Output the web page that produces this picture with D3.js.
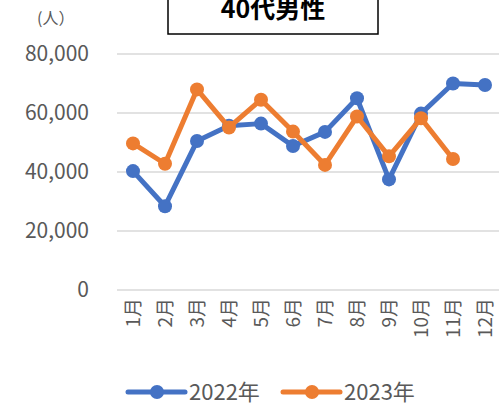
<!DOCTYPE html>
<html lang="ja">
    <head>
        <meta charset="utf-8">
        <title>40代男性</title>
        <script type="text/javascript" src="https://cdn.jsdelivr.net/npm/d3@7"></script>
        <style type="text/css">
            body { margin: 0; background: #fff; }
            svg { display: block; font-family: "Noto Sans CJK JP", "Noto Sans", sans-serif; }
        </style>
    </head>

    <body>
        <script type="text/javascript">
            var months = ["1月", "2月", "3月", "4月", "5月", "6月", "7月", "8月", "9月", "10月", "11月", "12月"];
            var values2022 = [40300, 28400, 50500, 55700, 56400, 48800, 53600, 65000, 37500, 59800, 70000, 69500];
            var values2023 = [49700, 42800, 68000, 55100, 64500, 53700, 42400, 58800, 45300, 58200, 44400];
            var yTicks = [0, 20000, 40000, 60000, 80000];
            var seriesNames = ["2022年", "2023年"];
            var colors = ["#4472C4", "#ED7D31"];

            var w = 499;
            var h = 408;

            // plot area (avoid "top", it's a read-only global)
            var plotLeft = 117, plotRight = 501, plotTop = 54, plotBottom = 290;

            var xScale = d3.scaleBand()
                            .domain(months)
                            .range([plotLeft, plotRight]);

            var yScale = d3.scaleLinear()
                            .domain([0, 80000])
                            .range([plotBottom, plotTop]);

            var svg = d3.select("body")
                        .append("svg")
                        .attr("width", w)
                        .attr("height", h);

            // gridlines
            svg.append("g")
                .selectAll("line")
                .data(yTicks)
                .enter()
                .append("line")
                .attr("x1", plotLeft)
                .attr("x2", plotRight)
                .attr("y1", function(d) { return yScale(d); })
                .attr("y2", function(d) { return yScale(d); })
                .attr("stroke", "#d9d9d9")
                .attr("stroke-width", 1.5);

            // y axis labels
            var yAxis = d3.axisLeft(yScale)
                            .tickValues(yTicks)
                            .tickSize(0)
                            .tickPadding(0)
                            .tickFormat(d3.format(","));
            var gy = svg.append("g")
                .attr("transform", "translate(89,0)")
                .call(yAxis);
            gy.select(".domain").remove();
            gy.selectAll("text")
                .attr("font-size", "21px")
                .attr("font-family", "\"Noto Sans CJK JP\", sans-serif")
                .attr("fill", "#595959");

            // x axis labels (rotated)
            var xAxis = d3.axisBottom(xScale).tickSize(0).tickPadding(0);
            var gx = svg.append("g")
                .attr("transform", "translate(0," + plotBottom + ")")
                .call(xAxis);
            gx.select(".domain").remove();
            gx.selectAll("text")
                .attr("font-size", "19px")
                .attr("font-family", "\"Noto Sans CJK JP\", sans-serif")
                .attr("fill", "#595959")
                .attr("text-anchor", "end")
                .attr("dy", "0.35em")
                .attr("y", 0)
                .attr("transform", "translate(0,8) rotate(-90)");

            // unit label
            svg.append("text")
                .attr("x", 37)
                .attr("y", 24)
                .attr("font-size", "16px")
                .attr("fill", "#595959")
                .text("(人）");

            // title box
            svg.append("rect")
                .attr("x", 168)
                .attr("y", -4)
                .attr("width", 210)
                .attr("height", 38)
                .attr("fill", "#fff")
                .attr("stroke", "#000")
                .attr("stroke-width", 1.5);
            svg.append("text")
                .attr("x", 273)
                .attr("y", 18)
                .attr("text-anchor", "middle")
                .attr("font-size", "25px")
                .attr("font-weight", "bold")
                .attr("fill", "#000")
                .text("40代男性");

            var line = d3.line()
                        .x(function(d, i) { return xScale(months[i]) + xScale.bandwidth() / 2; })
                        .y(function(d) { return yScale(d); });

            [values2022, values2023].forEach(function(vals, k) {
                svg.append("path")
                    .datum(vals)
                    .attr("d", line)
                    .attr("fill", "none")
                    .attr("stroke", colors[k])
                    .attr("stroke-width", 5)
                    .attr("stroke-linejoin", "round");
                svg.append("g")
                    .selectAll("circle")
                    .data(vals)
                    .enter()
                    .append("circle")
                    .attr("cx", function(d, i) { return xScale(months[i]) + xScale.bandwidth() / 2; })
                    .attr("cy", function(d) { return yScale(d); })
                    .attr("r", 7)
                    .attr("fill", colors[k]);
            });

            // legend
            var legendX = [128, 283];
            var legend = svg.append("g")
                .selectAll("g")
                .data(seriesNames)
                .enter()
                .append("g")
                .attr("transform", function(d, i) { return "translate(" + legendX[i] + ",392)"; });
            legend.append("line")
                .attr("x1", 0).attr("x2", 57)
                .attr("stroke", function(d, i) { return colors[i]; })
                .attr("stroke-width", 5)
                .attr("stroke-linecap", "round");
            legend.append("circle")
                .attr("cx", 29)
                .attr("r", 7)
                .attr("fill", function(d, i) { return colors[i]; });
            legend.append("text")
                .attr("x", 61)
                .attr("dy", "0.35em")
                .attr("font-size", "22px")
                .attr("fill", "#595959")
                .text(function(d) { return d; });
        </script>
    </body>
</html>
